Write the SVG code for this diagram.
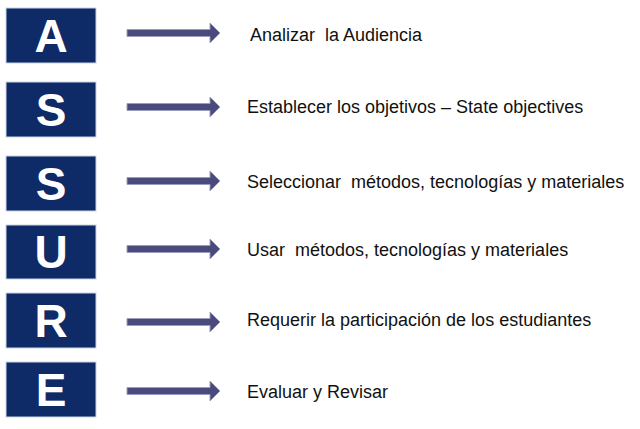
<svg xmlns="http://www.w3.org/2000/svg" width="640" height="429" viewBox="0 0 640 429">
<defs>
<style>
.box{fill:#0e2a67;stroke:#c9d3e6;stroke-width:1}
.let{font-family:"Liberation Sans",Arial,sans-serif;font-weight:bold;font-size:46px;fill:#ffffff;text-anchor:middle}
.lbl{font-family:"Liberation Sans",Arial,sans-serif;font-size:18px;fill:#111111}
.arr{fill:#4b4a7c;stroke:#9c9cc0;stroke-width:1}
</style>
<path id="ar" d="M127,-3.5 L210,-3.5 L210,-10 L220,0 L210,10 L210,3.5 L127,3.5 Z"/>
</defs>
<rect width="640" height="429" fill="#ffffff"/>
<g id="node-A"><rect class="box" x="6" y="8" width="90" height="55"/><text class="let" x="51" y="52">A</text></g>
<g id="node-S1"><rect class="box" x="6" y="82" width="90" height="55"/><text class="let" x="51" y="126">S</text></g>
<g id="node-S2"><rect class="box" x="6" y="156" width="90" height="55"/><text class="let" x="51" y="200">S</text></g>
<g id="node-U"><rect class="box" x="6" y="225" width="90" height="54"/><text class="let" x="51" y="268">U</text></g>
<g id="node-R"><rect class="box" x="6" y="293" width="90" height="55"/><text class="let" x="51" y="337">R</text></g>
<g id="node-E"><rect class="box" x="6" y="362" width="90" height="55"/><text class="let" x="51" y="406">E</text></g>
<g id="connectors">
<use href="#ar" class="arr" y="33"/>
<use href="#ar" class="arr" y="107"/>
<use href="#ar" class="arr" y="181"/>
<use href="#ar" class="arr" y="249"/>
<use href="#ar" class="arr" y="322"/>
<use href="#ar" class="arr" y="391"/>
</g>
<g id="labels">
<text class="lbl" x="250" y="41" xml:space="preserve">Analizar  la Audiencia</text>
<text class="lbl" x="247" y="113">Establecer los objetivos – State objectives</text>
<text class="lbl" x="247" y="188" xml:space="preserve">Seleccionar  métodos, tecnologías y materiales</text>
<text class="lbl" x="247" y="256" xml:space="preserve">Usar  métodos, tecnologías y materiales</text>
<text class="lbl" x="247" y="326">Requerir la participación de los estudiantes</text>
<text class="lbl" x="247" y="398">Evaluar y Revisar</text>
</g>
</svg>
